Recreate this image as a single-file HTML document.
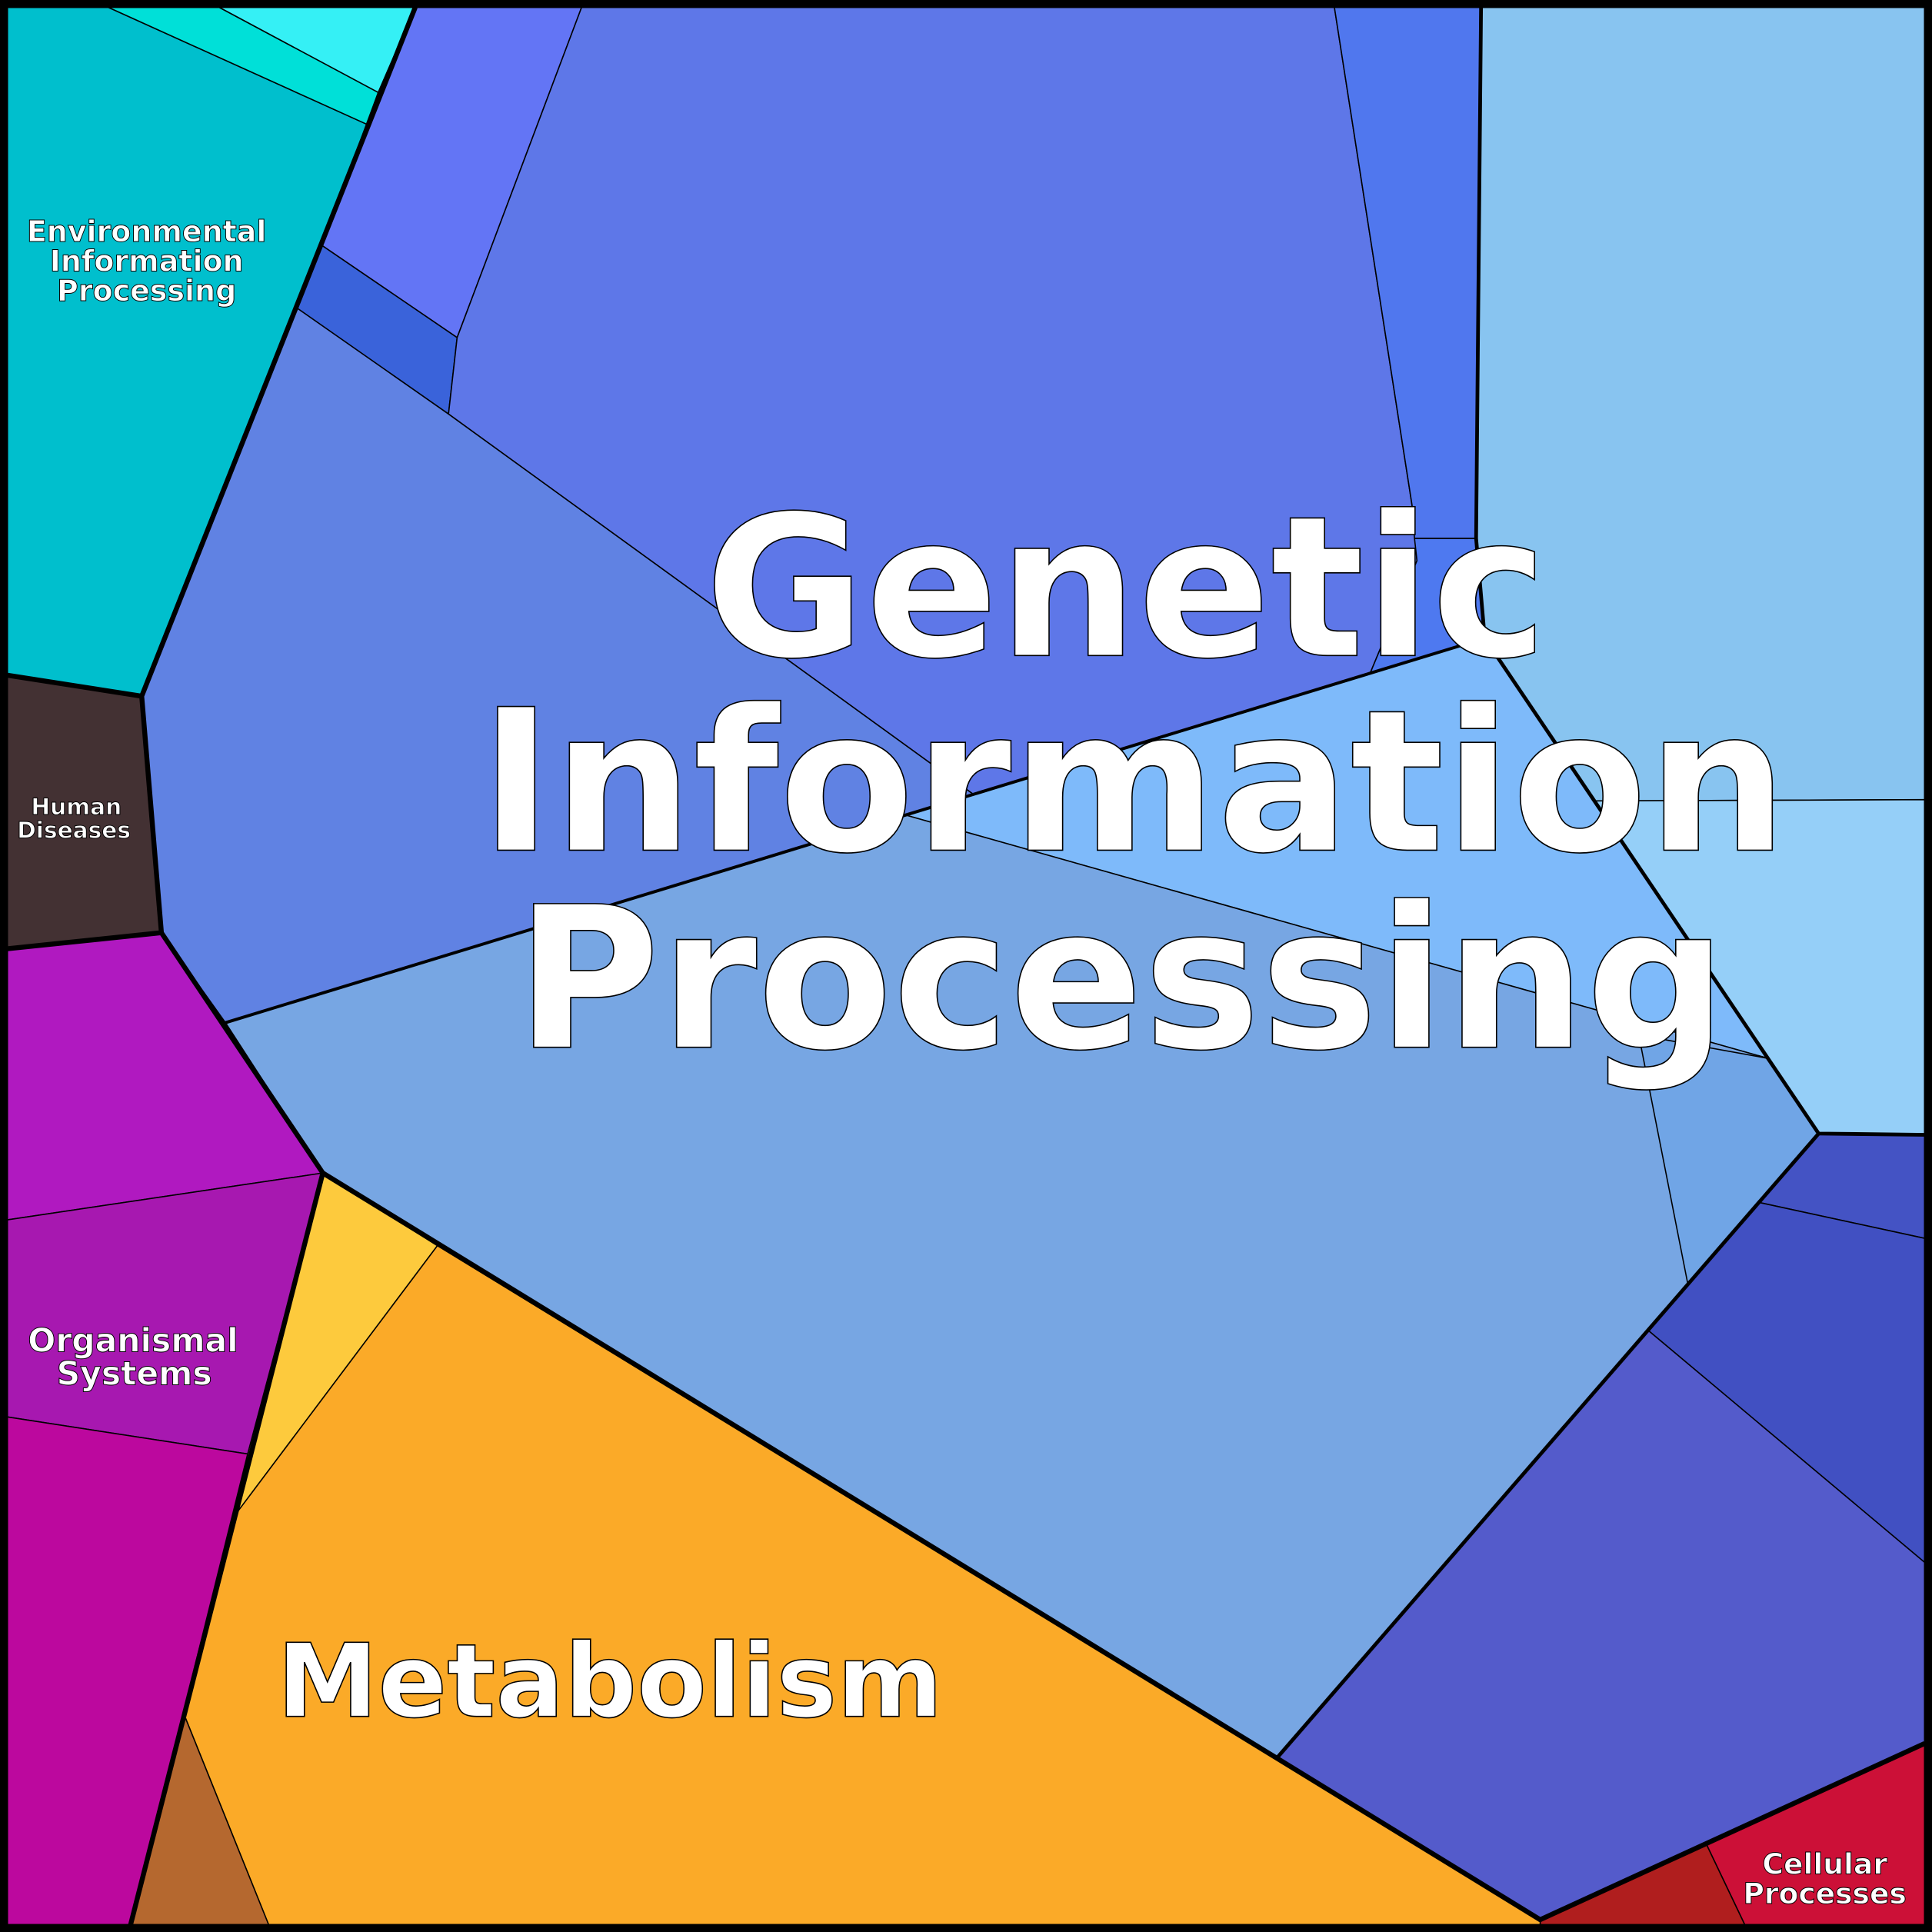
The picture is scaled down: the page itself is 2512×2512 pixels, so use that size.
<!DOCTYPE html>
<html><head><meta charset="utf-8"><style>
html,body{margin:0;padding:0;background:#fff;}
svg{display:block;}
text{font-family:"DejaVu Sans","Liberation Sans",sans-serif;font-weight:bold;fill:#fff;stroke:#000;text-anchor:middle;}
</style></head><body>
<svg width="2512" height="2512" viewBox="0 0 1568 1568" xmlns="http://www.w3.org/2000/svg">
<rect x="0" y="0" width="1568" height="1568" fill="#000"/>
<g stroke="#000" stroke-width="1" stroke-linejoin="round">
<polygon fill="#00BFCD" points="6,6 88,6 298,101 115,565 6,548"/>
<polygon fill="#00E0D8" points="88,6 178,6 307,75 298,101"/>
<polygon fill="#35F0F5" points="178,6 337,6 307,75"/>
<polygon fill="#6375F5" points="337,6 472,6 371,274 261,199 307,75"/>
<polygon fill="#3A63DA" points="261,199 371,274 364,336 241,250"/>
<polygon fill="#5E77E8" points="472,6 1083,6 1146,410 1150,455 1112,546.4 790,644.7 364,336 371,274"/>
<polygon fill="#6082E3" points="115,565 241,250 364,336 790,644.7 183,830 131,757"/>
<polygon fill="#5077EE" points="1083,6 1202,6 1198,437 1148,437 1146,410"/>
<polygon fill="#4E79F0" points="1148,437 1198,437 1205,518 1112,546.4 1150,455"/>
<polygon fill="#88C4F0" points="1202,6 1562,6 1562,649 1294,650 1205,518 1198,437"/>
<polygon fill="#95CFF8" points="1294,650 1562,649 1562,921 1476,920"/>
<polygon fill="#7EBAFA" points="735,661.5 1205,518 1435,859"/>
<polygon fill="#77A6E3" points="183,830 735,661.5 1435,859 1476,920 1037,1426 262,952"/>
<polygon fill="#70A5E6" points="1330,840 1435,859 1476,920 1370,1043"/>
<polygon fill="#4453C4" points="1476,920 1562,921 1562,1005 1428,976"/>
<polygon fill="#4150C2" points="1428,976 1562,1005 1562,1268 1338,1080"/>
<polygon fill="#545BCB" points="1338,1080 1562,1268 1562,1415 1250,1558 1037,1426"/>
<polygon fill="#CC1037" points="1385,1497 1562,1415 1562,1562 1416,1562"/>
<polygon fill="#B01E1E" points="1250,1558 1385,1497 1416,1562 1250,1562"/>
<polygon fill="#FDCA3D" points="262,952 355,1011 192,1228 201,1180"/>
<polygon fill="#FBAA28" points="355,1011 1250,1558 1250,1562 218,1562 150,1393 192,1228"/>
<polygon fill="#B5682F" points="150,1393 218,1562 106,1562"/>
<polygon fill="#B019C0" points="6,770 131,757 262,952 6,990"/>
<polygon fill="#A718B0" points="6,990 262,952 201,1180 6,1150"/>
<polygon fill="#BC089E" points="6,1150 201,1180 106,1562 6,1562"/>
<polygon fill="#433133" points="6,548 115,565 131,757 6,770"/>
</g>
<g fill="none" stroke="#000" stroke-linejoin="round">
<polyline stroke-width="2.5" points="183,830 1205,518"/>
<polyline stroke-width="4" points="337,6 115,565 131,757 262,952 1250,1558 1562,1415"/>
<polyline stroke-width="4" points="6,548 115,565"/>
<polyline stroke-width="4" points="131,757 6,770"/>
<polyline stroke-width="4" points="262,952 106,1562"/>
<polyline stroke-width="3" points="1202,6 1198,437 1205,518 1476,920 1562,921"/>
<polyline stroke-width="3" points="1476,920 1037,1426"/>
<rect x="3" y="3" width="1562" height="1562" stroke-width="7"/>
</g>
<g stroke-width="1">
<text x="914" y="532" font-size="159">Genetic</text>
<text x="920" y="690" font-size="160">Information</text>
<text x="910" y="850" font-size="160">Processing</text>
<text x="495" y="1393" font-size="82.5">Metabolism</text>
</g>
<g stroke-width="0.6">
<text x="119" y="196" font-size="23.7">Environmental</text>
<text x="119" y="220" font-size="23.7">Information</text>
<text x="119" y="244" font-size="23.7">Processing</text>
<text x="62" y="661" font-size="18.5">Human</text>
<text x="60" y="680" font-size="18.5">Diseases</text>
<text x="108" y="1097" font-size="26.5">Organismal</text>
<text x="109" y="1124" font-size="26.5">Systems</text>
<text x="1481" y="1521" font-size="23.5">Cellular</text>
<text x="1481" y="1545" font-size="23.5">Processes</text>
</g>
</svg>
</body></html>
